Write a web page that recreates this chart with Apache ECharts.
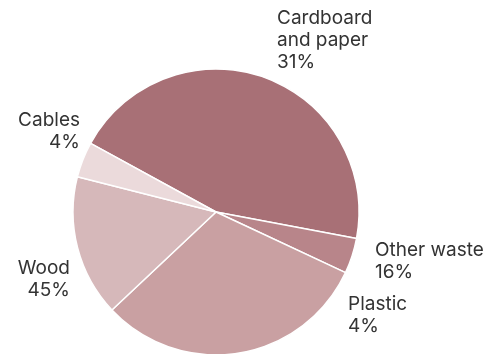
<!DOCTYPE html>
<html>
<head>
<meta charset="utf-8">
<script src="https://cdn.jsdelivr.net/npm/echarts@6/dist/echarts.min.js"></script>
<style>
html,body{margin:0;padding:0;background:#fff;}
#chart{width:494px;height:354px;}
</style>
</head>
<body>
<div id="chart"></div>
<script>
// Slices in clockwise order as drawn
const categories = ['Cardboard\nand paper', 'Other waste', 'Plastic', 'Wood', 'Cables'];
const labelShares = [31, 16, 4, 45, 4];      // percentages as printed in the labels
const sliceValues = [45, 4, 31, 16, 4];       // slice sizes as drawn
const colors = ['#a87076', '#b8858a', '#c9a0a2', '#d6b8ba', '#ebdadb'];

const labelPos = [
  {x: 277, y: 7,   align: 'left'},
  {x: 375, y: 239, align: 'left'},
  {x: 348, y: 293, align: 'left'},
  {x: 70,  y: 257, align: 'right'},
  {x: 80,  y: 109, align: 'right'}
];

const chart = echarts.init(document.getElementById('chart'), null, {renderer: 'canvas'});
chart.setOption({
  animation: false,
  backgroundColor: '#fff',
  series: [{
    type: 'pie',
    center: [216, 212],
    radius: 143,
    startAngle: 151.3,
    clockwise: true,
    silent: true,
    data: categories.map((c, i) => ({
      name: c,
      value: sliceValues[i],
      itemStyle: {color: colors[i]}
    })),
    itemStyle: {borderColor: '#fff', borderWidth: 1.5},
    label: {
      show: true,
      position: 'outside',
      color: '#333',
      fontFamily: 'Inter, sans-serif',
      fontSize: 19,
      lineHeight: 22,
      overflow: 'none',
      width: 200,
      formatter: p => p.name + '\n' + labelShares[p.dataIndex] + '%'
    },
    labelLine: {show: false},
    labelLayout: p => ({
      x: labelPos[p.dataIndex].x,
      y: labelPos[p.dataIndex].y,
      align: labelPos[p.dataIndex].align,
      verticalAlign: 'top'
    })
  }]
});
</script>
</body>
</html>
